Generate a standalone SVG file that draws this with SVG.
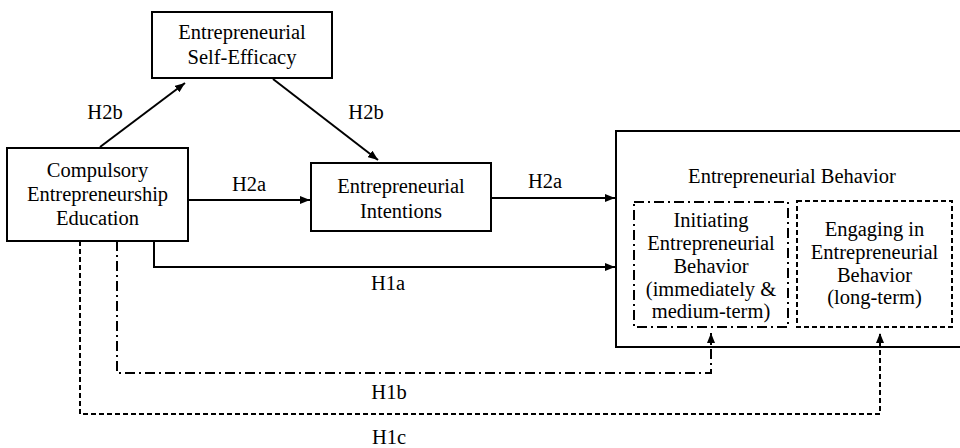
<svg xmlns="http://www.w3.org/2000/svg" width="960" height="448" viewBox="0 0 960 448">
<defs>
<marker id="ah" viewBox="0 0 10 8" refX="10" refY="4" markerWidth="10" markerHeight="8" markerUnits="userSpaceOnUse" orient="auto">
<path d="M0,0 L10,4 L0,8 Z" fill="#000"/>
</marker>
<style>
text{font-family:"Liberation Serif","Times New Roman",serif;font-size:20.5px;fill:#000;text-anchor:middle}
.box{fill:#fff;stroke:#000;stroke-width:2}
.ln{fill:none;stroke:#000;stroke-width:2}
.dd{stroke-dasharray:10,4,2,4}
.da{stroke-dasharray:5,3}
</style>
</defs>
<rect width="960" height="448" fill="#fff"/>
<g id="behavior">
<rect class="box" x="616" y="131" width="346" height="216"/>
<text x="792" y="183">Entrepreneurial Behavior</text>
</g>
<g id="initiating">
<rect class="box dd" x="634" y="202" width="154" height="125" stroke-width="1.6"/>
<text x="711" y="227">Initiating</text>
<text x="711" y="250">Entrepreneurial</text>
<text x="711" y="273">Behavior</text>
<text x="711" y="296">(immediately &amp;</text>
<text x="711" y="318">medium-term)</text>
</g>
<g id="engaging">
<rect class="box da" x="797" y="201" width="155" height="126" stroke-width="1.6"/>
<text x="874.5" y="236">Engaging in</text>
<text x="874.5" y="259">Entrepreneurial</text>
<text x="874.5" y="282">Behavior</text>
<text x="874.5" y="304">(long-term)</text>
</g>
<g id="selfefficacy">
<rect class="box" x="152" y="12" width="180" height="66"/>
<text x="242" y="39">Entrepreneurial</text>
<text x="242" y="64">Self-Efficacy</text>
</g>
<g id="education">
<rect class="box" x="7" y="148" width="181" height="93"/>
<text x="97.5" y="177">Compulsory</text>
<text x="97.5" y="201">Entrepreneurship</text>
<text x="97.5" y="225">Education</text>
</g>
<g id="intentions">
<rect class="box" x="311" y="163" width="180" height="68"/>
<text x="401" y="193">Entrepreneurial</text>
<text x="401" y="218">Intentions</text>
</g>
<g id="connectors">
<line class="ln" x1="100" y1="147" x2="185" y2="83" marker-end="url(#ah)"/>
<line class="ln" x1="273" y1="79" x2="378" y2="160" marker-end="url(#ah)"/>
<line class="ln" x1="188" y1="200" x2="310" y2="200" marker-end="url(#ah)"/>
<line class="ln" x1="491" y1="198" x2="615" y2="198" marker-end="url(#ah)"/>
<polyline class="ln" points="154,241 154,267 615,267" marker-end="url(#ah)"/>
<polyline class="ln dd" stroke-width="1.6" points="117,241 117,373 711,373 711,333" marker-end="url(#ah)"/>
<polyline class="ln da" stroke-width="1.6" points="80,241 80,414 880,414 880,333" marker-end="url(#ah)"/>
<text x="105" y="119">H2b</text>
<text x="366" y="119">H2b</text>
<text x="249" y="191">H2a</text>
<text x="545" y="188">H2a</text>
<text x="388" y="290">H1a</text>
<text x="389" y="399">H1b</text>
<text x="389" y="444">H1c</text>
</g>
</svg>
